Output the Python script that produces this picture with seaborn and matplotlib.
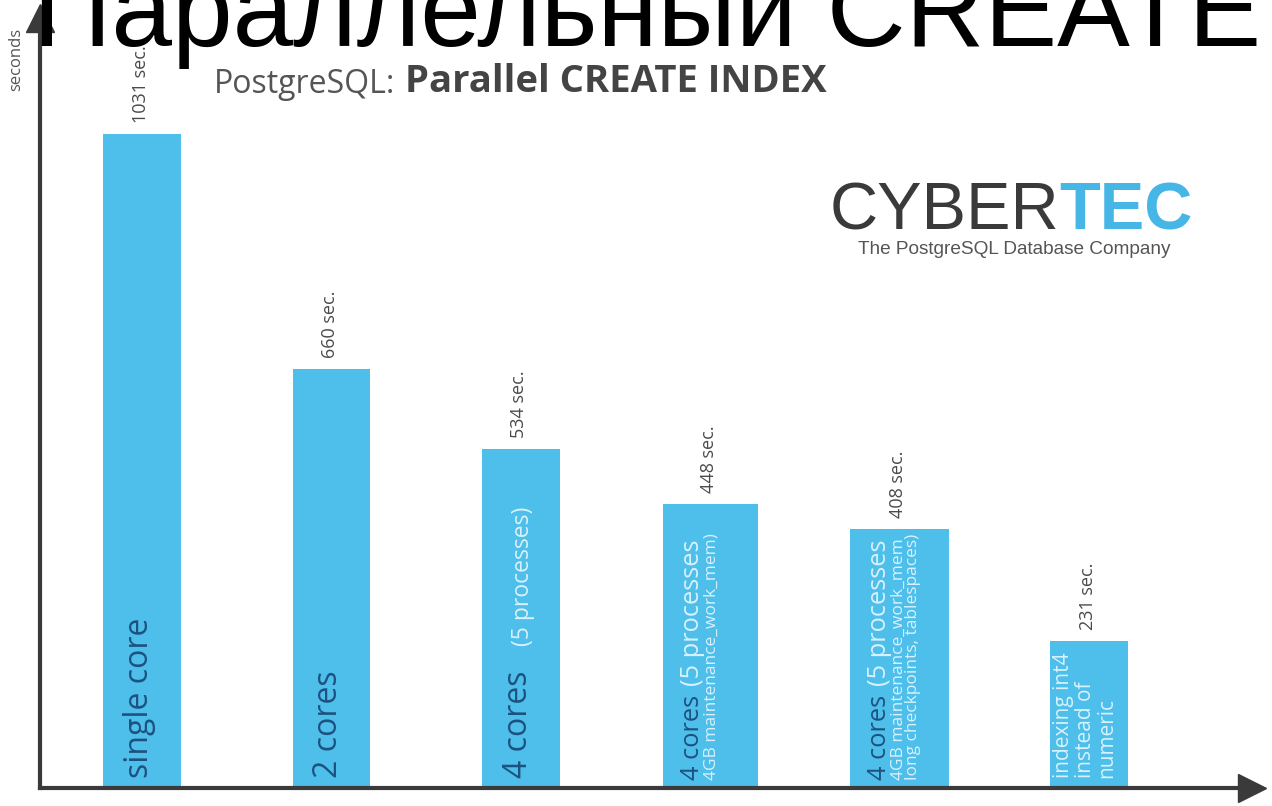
import matplotlib
matplotlib.use("Agg")
import matplotlib.pyplot as plt
import pandas as pd
import seaborn as sns

# data
configs = ["single core", "2 cores", "4 cores", "4 cores 4GB", "4 cores 4GB ckpt", "int4"]
seconds = [1031, 660, 534, 448, 408, 231]
main_labels = ["single core", "2 cores", "4 cores", "4 cores", "4 cores", ""]
note_labels = ["", "", "(5 processes)", "(5 processes", "(5 processes", ""]
detail_labels = ["", "", "",
                 "4GB maintenance_work_mem)",
                 "4GB maintenance_work_mem\nlong checkpoints, tablespaces)",
                 "indexing int4\ninstead of\nnumeric"]
title = "Параллельный CREATE"
subtitle_plain = "PostgreSQL:"
subtitle_bold = "Parallel CREATE INDEX"

# styles
BAR = "#4dbfea"
AXIS = "#3a3a3a"
DARK = "#1d5180"
LIGHT = "#d9f1fc"
GREY = "#4a4a4a"
bar_widths = [0.41, 0.41, 0.41, 0.50, 0.52, 0.41]

sns.set_theme(style="white")
plt.rcParams["font.family"] = ["Open Sans", "DejaVu Sans"]

W, H = 1272, 806
fig = plt.figure(figsize=(W / 100, H / 100), dpi=100)
ax = fig.add_axes([40 / W, 18 / H, (1252 - 40) / W, (788 - 18) / H])

df = pd.DataFrame({"config": configs, "seconds": seconds})
sns.barplot(data=df, x="config", y="seconds", color=BAR, saturation=1,
            width=0.41, linewidth=0, ax=ax)

for p, w in zip(ax.patches, bar_widths):
    c = p.get_x() + p.get_width() / 2
    p.set_width(w)
    p.set_x(c - w / 2)

ax.set_xlim(-0.5385, 5.86)
ax.set_ylim(0, 1214)
ax.set_xticks([])
ax.set_yticks([])
ax.set_xlabel("")
ax.set_ylabel("")
sns.despine(ax=ax)
for side in ["left", "bottom"]:
    ax.spines[side].set_linewidth(3)
    ax.spines[side].set_color(AXIS)
ax.plot(1, 0, ">", color=AXIS, markersize=20, transform=ax.transAxes, clip_on=False)
ax.plot(0, 1, "^", color=AXIS, markersize=20, transform=ax.transAxes, clip_on=False)

# value labels on top of bars
for p, v in zip(ax.patches, seconds):
    ax.annotate(f"{v} sec.", xy=(p.get_x() + p.get_width() / 2, v),
                xytext=(-1, 8), textcoords="offset points", rotation=90,
                ha="center", va="bottom", fontsize=13, color=GREY)

# texts inside the bars
for i, p in enumerate(ax.patches):
    big = i < 3
    anchor = None
    if main_labels[i] and big:
        anchor = ax.annotate(main_labels[i], xy=(p.get_x() + p.get_width() / 2, 0),
                             xytext=(-2, 7), textcoords="offset points",
                             rotation=90, ha="center", va="bottom",
                             fontsize=23, color=DARK)
    elif main_labels[i]:
        anchor = ax.annotate(main_labels[i], xy=(p.get_x(), 0),
                             xytext=(12, 6), textcoords="offset points",
                             rotation=90, ha="left", va="bottom",
                             fontsize=18.3, color=DARK)
    if note_labels[i]:
        ax.annotate(note_labels[i], xy=(1, 1), xycoords=anchor,
                    xytext=(0, 18 if big else 6), textcoords="offset points",
                    rotation=90, ha="right", va="bottom",
                    fontsize=16.5 if big else 18.3, color=LIGHT)
    if detail_labels[i]:
        if anchor is not None:
            ax.annotate(detail_labels[i], xy=(1, 0), xycoords=anchor,
                        xytext=(-1, 0), textcoords="offset points",
                        rotation=90, ha="left", va="bottom", fontsize=12.5,
                        linespacing=0.85, color=LIGHT)
        else:
            ax.annotate(detail_labels[i], xy=(p.get_x(), 0),
                        xytext=(2, 7), textcoords="offset points",
                        rotation=90, ha="left", va="bottom", fontsize=15,
                        linespacing=1.05, color=LIGHT)

# headings
fig.text(33 / W, 1 - 46 / H, title, family=["Liberation Sans", "DejaVu Sans"],
         fontsize=78.5, color="black", ha="left", va="baseline", zorder=10)
sub = fig.text(214 / W, 1 - 93 / H, subtitle_plain, fontsize=23, color="#555555",
               ha="left", va="baseline")
ax.annotate(subtitle_bold, xy=(1, 0), xycoords=sub, xytext=(7, 0),
            textcoords="offset points", fontsize=27.5, fontweight="bold",
            color="#444444", ha="left", va="bottom")

# logo
cy = fig.text(830 / W, 1 - 230 / H, "CYBER", family=["Liberation Sans"],
              fontsize=48, color="#3a3a3a", ha="left", va="baseline")
ax.annotate("TEC", xy=(1, 0), xycoords=cy, xytext=(0, 0), textcoords="offset points",
            family=["Liberation Sans"], fontsize=48, fontweight="bold",
            color="#45b6e6", ha="left", va="bottom")
fig.text(1170 / W, 1 - 254 / H, "The PostgreSQL Database Company",
         family=["Liberation Sans"], fontsize=13.7, color="#555555",
         ha="right", va="baseline")

fig.text(16 / W, 1 - 28 / H, "seconds", rotation=90, ha="center", va="top",
         fontsize=12, color="#555555")

fig.savefig("out.png", dpi=100)
